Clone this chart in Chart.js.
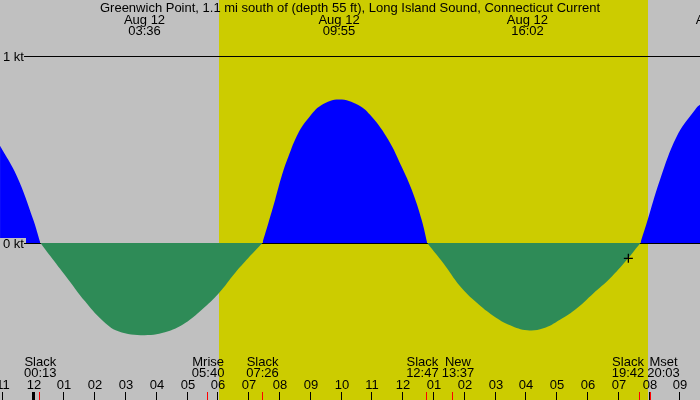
<!DOCTYPE html>
<html>
<head>
<meta charset="utf-8">
<script src="https://cdn.jsdelivr.net/npm/chart.js@4/dist/chart.umd.min.js"></script>
<style>
  html, body { margin: 0; padding: 0; background: #c0c0c0; }
  #tide { display: block; }
</style>
</head>
<body>
<canvas id="tide" width="700" height="400"></canvas>
<script>
// tide chart - Greenwich Point current, Aug 12

var titleText = 'Greenwich Point, 1.1 mi south of (depth 55 ft), Long Island Sound, Connecticut Current';

// current speed readings (hours from midnight Aug 12, knots; + flood, - ebb)
var curveHours = [-1.09, -0.55, -0.01, 0.22,
                  0.59, 1.13, 1.67, 2.21, 2.75, 3.60, 4.37, 4.92, 5.46, 6.02, 6.54, 6.97, 7.43,
                  7.62, 7.84, 8.05, 8.27, 8.59, 8.92, 9.35, 9.92, 10.54, 10.98, 11.52, 11.95, 12.28, 12.60, 12.78,
                  13.31, 13.84, 14.39, 14.93, 15.47, 16.03, 16.55, 17.09, 17.63, 18.17, 18.71, 19.26, 19.70,
                  19.91, 20.34, 20.88, 21.42, 21.64, 22.17];
var curveKnots = [0.52, 0.36, 0.125, 0,
                  -0.08, -0.196, -0.312, -0.41, -0.472, -0.493, -0.472, -0.428, -0.357, -0.267, -0.16, -0.08, 0,
                  0.105, 0.23, 0.355, 0.461, 0.587, 0.667, 0.738, 0.768, 0.738, 0.675, 0.551, 0.408, 0.283, 0.123, 0,
                  -0.11, -0.23, -0.32, -0.39, -0.44, -0.467, -0.456, -0.41, -0.35, -0.27, -0.19, -0.09, 0,
                  0.11, 0.34, 0.57, 0.70, 0.74, 0.77];

// max flood / ebb labels along the top
var maxDates = ['Aug 12', 'Aug 12', 'Aug 12', 'Aug 12'];
var maxTimes = ['03:36', '09:55', '16:02', '22:10'];

// events along the bottom
var eventNames = ['Slack', 'Mrise', 'Slack', 'Slack', 'New', 'Slack', 'Mset'];
var eventTimes = ['00:13', '05:40', '07:26', '12:47', '13:37', '19:42', '20:03'];

// hour axis
var hourValues = [-1, 0, 1, 2, 3, 4, 5, 6, 7, 8, 9, 10, 11, 12, 13, 14, 15, 16, 17, 18, 19, 20, 21];
var hourLabels = ['11', '12', '01', '02', '03', '04', '05', '06', '07', '08', '09', '10', '11',
                  '12', '01', '02', '03', '04', '05', '06', '07', '08', '09'];

// knot lines
var ktValues = [0, 1];
var ktLabels = ['0 kt', '1 kt'];

// daylight
var sunrise = '06:02';
var sunset = '19:56';

// "+" mark
var markHours = [19.31];
var markKnots = [-0.082];

function toHours(t) {
  var p = t.split(':');
  return parseInt(p[0], 10) + parseInt(p[1], 10) / 60;
}

var FONT = '13px "Liberation Sans", Arial, sans-serif';
var NIGHT = '#c0c0c0';
var DAY = '#cccc00';

// split the curve at slack water so each flood / ebb lobe is its own line
function splitLobes(hours, knots) {
  var lobes = [], cur = [];
  for (var i = 0; i < hours.length; i++) {
    cur.push({ x: hours[i], y: knots[i] });
    if (knots[i] === 0 && cur.length > 1) {
      lobes.push(cur);
      cur = [{ x: hours[i], y: knots[i] }];
    }
  }
  if (cur.length > 1) lobes.push(cur);
  return lobes;
}

var tideDecor = {
  id: 'tideDecor',
  beforeDraw: function(chart) {
    var ctx = chart.ctx, xs = chart.scales.x;
    ctx.save();
    ctx.fillStyle = NIGHT;
    ctx.fillRect(0, 0, chart.width, chart.height);
    var x1 = Math.round(xs.getPixelForValue(toHours(sunrise)));
    var x2 = Math.round(xs.getPixelForValue(toHours(sunset)));
    ctx.fillStyle = DAY;
    ctx.fillRect(x1, 0, x2 - x1, chart.height);
    ctx.restore();
  },
  beforeDatasetsDraw: function(chart) {
    var ctx = chart.ctx, ys = chart.scales.y;
    ctx.save();
    ctx.fillStyle = '#000';
    for (var i = 0; i < ktValues.length; i++) {
      var y = Math.round(ys.getPixelForValue(ktValues[i]));
      ctx.fillRect(26, y, chart.width - 26, 1);
    }
    ctx.restore();
  },
  afterDatasetsDraw: function(chart) {
    // kt labels sit on a small background box over the curve
    var ctx = chart.ctx, ys = chart.scales.y;
    ctx.save();
    ctx.font = FONT;
    ctx.textAlign = 'left';
    ctx.textBaseline = 'alphabetic';
    for (var i = 0; i < ktValues.length; i++) {
      var y = Math.round(ys.getPixelForValue(ktValues[i]));
      ctx.fillStyle = NIGHT;
      ctx.fillRect(0, y - 5, 26, 11);
      ctx.fillStyle = '#000';
      ctx.fillRect(24, y, 2, 1);
      ctx.fillText(ktLabels[i], 3, y + 5);
    }
    ctx.restore();
  },
  afterDraw: function(chart) {
    var ctx = chart.ctx, xs = chart.scales.x;
    var h = chart.height;
    ctx.save();
    ctx.font = FONT;
    ctx.fillStyle = '#000';
    ctx.textAlign = 'center';
    ctx.textBaseline = 'alphabetic';

    // title and max labels
    ctx.fillText(titleText, chart.width / 2, 12);
    for (var i = 0; i < maxTimes.length; i++) {
      var mx = xs.getPixelForValue(toHours(maxTimes[i]));
      ctx.fillText(maxDates[i], mx, 24);
      ctx.fillText(maxTimes[i], mx, 35);
    }

    // hour ticks and labels
    for (var j = 0; j < hourValues.length; j++) {
      var hx = Math.round(xs.getPixelForValue(hourValues[j]));
      ctx.fillText(hourLabels[j], hx, 389);
      if (hourValues[j] === 0) {
        ctx.fillRect(hx - 2, h - 8, 3, 8);
      } else {
        ctx.fillRect(hx - 1, h - 8, 1, 8);
      }
    }

    // events: push apart labels that would overlap
    var ev = eventTimes.map(function(t, k) {
      var x = xs.getPixelForValue(toHours(t));
      var w = Math.max(ctx.measureText(eventNames[k]).width, ctx.measureText(t).width);
      return { x: x, lx: x, w: w };
    });
    for (var k = 1; k < ev.length; k++) {
      var need = (ev[k - 1].w + ev[k].w) / 2 + 3;
      var gap = ev[k].lx - ev[k - 1].lx;
      if (gap < need) {
        ev[k - 1].lx -= (need - gap) / 2;
        ev[k].lx += (need - gap) / 2;
      }
    }
    for (var m = 0; m < ev.length; m++) {
      ctx.fillStyle = '#000';
      ctx.fillText(eventNames[m], ev[m].lx, 366);
      ctx.fillText(eventTimes[m], ev[m].lx, 377);
      ctx.fillStyle = '#ff0000';
      ctx.fillRect(Math.round(ev[m].x) - 1, h - 8, 1, 8);
    }
    ctx.restore();
  }
};

var lobeSets = splitLobes(curveHours, curveKnots).map(function(pts) {
  return {
    label: 'Current',
    data: pts,
    order: 1,
    borderWidth: 0,
    borderColor: 'rgba(0,0,0,0)',
    pointRadius: 0,
    tension: 0.4,
    fill: { target: 'origin', above: '#0000ff', below: '#2e8b57' }
  };
});

// mark goes on top of the fills
var markSet = {
  label: 'Mark',
  data: markHours.map(function(t, i) { return { x: t, y: markKnots[i] }; }),
  order: 0,
  showLine: false,
  pointStyle: 'cross',
  pointRadius: 4.5,
  pointBorderWidth: 1.3,
  pointBorderColor: '#000',
  pointBackgroundColor: '#000'
};

var ctx = document.getElementById('tide').getContext('2d');
var tideChart = new Chart(ctx, {
  type: 'line',
  data: { datasets: lobeSets.concat([markSet]) },
  options: {
    responsive: false,
    animation: false,
    devicePixelRatio: 1,
    layout: { padding: 0, autoPadding: false },
    plugins: {
      legend: { display: false },
      tooltip: { enabled: false }
    },
    scales: {
      x: { type: 'linear', min: -1.091, max: 21.636, display: false },
      y: { type: 'linear', min: -157 / 187, max: 243 / 187, display: false }
    }
  },
  plugins: [tideDecor]
});
</script>
</body>
</html>
